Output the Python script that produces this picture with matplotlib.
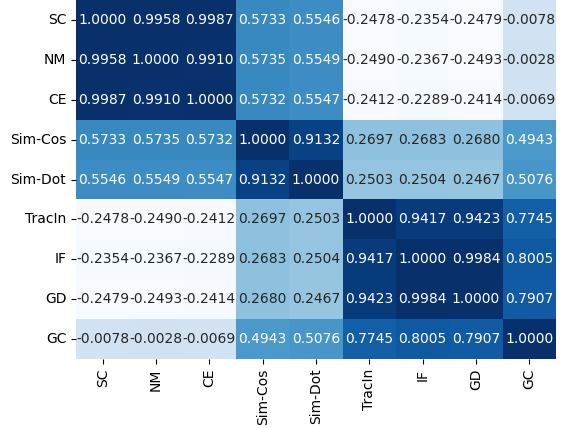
import matplotlib
matplotlib.use("Agg")
import matplotlib.pyplot as plt
import numpy as np
import pandas as pd
import seaborn as sns


METHODS = ["SC", "NM", "CE", "Sim-Cos", "Sim-Dot", "TracIn", "IF", "GD", "GC"]

ROW_SC = [1.0000, 0.9958, 0.9987, 0.5733, 0.5546, -0.2478, -0.2354, -0.2479, -0.0078]
ROW_NM = [0.9958, 1.0000, 0.9910, 0.5735, 0.5549, -0.2490, -0.2367, -0.2493, -0.0028]
ROW_CE = [0.9987, 0.9910, 1.0000, 0.5732, 0.5547, -0.2412, -0.2289, -0.2414, -0.0069]
ROW_SIMCOS = [0.5733, 0.5735, 0.5732, 1.0000, 0.9132, 0.2697, 0.2683, 0.2680, 0.4943]
ROW_SIMDOT = [0.5546, 0.5549, 0.5547, 0.9132, 1.0000, 0.2503, 0.2504, 0.2467, 0.5076]
ROW_TRACIN = [-0.2478, -0.2490, -0.2412, 0.2697, 0.2503, 1.0000, 0.9417, 0.9423, 0.7745]
ROW_IF = [-0.2354, -0.2367, -0.2289, 0.2683, 0.2504, 0.9417, 1.0000, 0.9984, 0.8005]
ROW_GD = [-0.2479, -0.2493, -0.2414, 0.2680, 0.2467, 0.9423, 0.9984, 1.0000, 0.7907]
ROW_GC = [-0.0078, -0.0028, -0.0069, 0.4943, 0.5076, 0.7745, 0.8005, 0.7907, 1.0000]


corr = pd.DataFrame(
    np.array([ROW_SC, ROW_NM, ROW_CE, ROW_SIMCOS, ROW_SIMDOT,
              ROW_TRACIN, ROW_IF, ROW_GD, ROW_GC]),
    index=METHODS,
    columns=METHODS,
)

fig = plt.figure(figsize=(5.65, 4.28), dpi=100)
# axes placed to match the cropped original
ax = fig.add_axes([76 / 565, 1 - 359 / 428, 480 / 565, 359 / 428])

sns.heatmap(
    corr,
    ax=ax,
    cmap="Blues",
    annot=True,
    fmt=".4f",
    cbar=False,
    annot_kws={"fontsize": 10},
)
ax.tick_params(axis="both", labelsize=10)
plt.setp(ax.get_yticklabels(), rotation=0)
plt.setp(ax.get_xticklabels(), rotation=90)

fig.savefig("out.png", dpi=100)
